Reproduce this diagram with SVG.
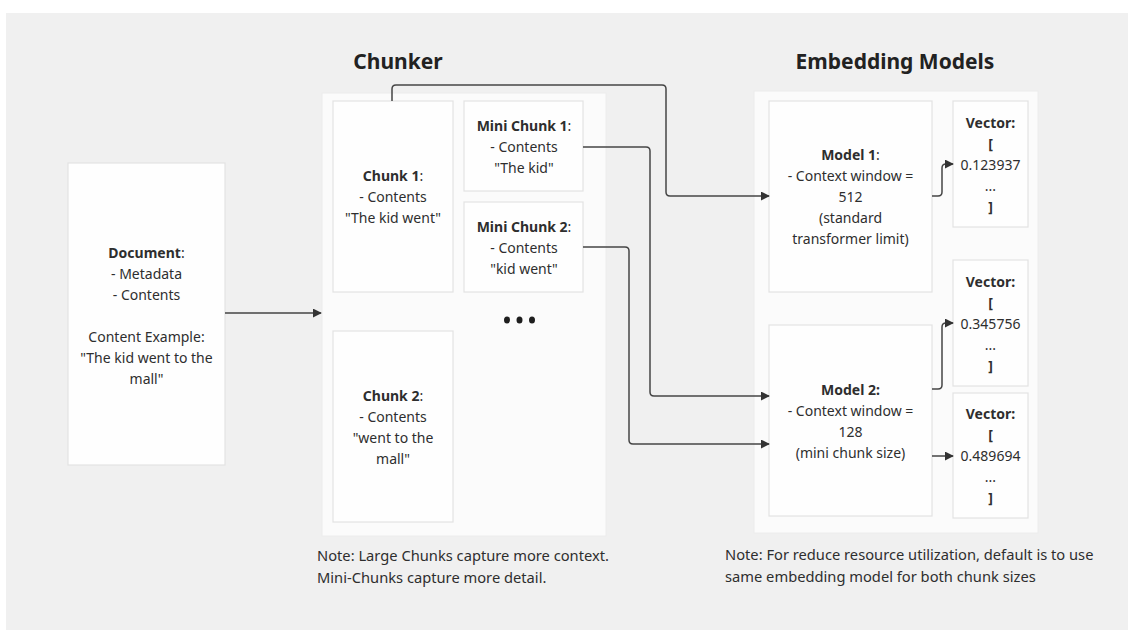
<svg xmlns="http://www.w3.org/2000/svg" width="1128" height="630" viewBox="0 0 1128 630">
<style>
text{font-family:"Noto Sans","Open Sans","DejaVu Sans",sans-serif;font-size:14px;fill:#2e2e2e;text-anchor:middle}
.b{font-weight:bold}
.title{font-size:21px;font-weight:bold;fill:#222}
.note{text-anchor:start;font-size:14.7px}
.box{fill:#fefefe;stroke:#e3e3e3;stroke-width:1.2}
.cont{fill:#fbfbfb;stroke:#ececec;stroke-width:1}
.conn{fill:none;stroke:#454545;stroke-width:1.5}
</style>
<defs>
<marker id="ah" viewBox="0 0 10 10" refX="9" refY="5" markerWidth="9" markerHeight="9" markerUnits="userSpaceOnUse" orient="auto">
<path d="M0,0 L10,5 L0,10 z" fill="#333"/>
</marker>
</defs>
<rect x="0" y="0" width="1128" height="630" fill="#ffffff"/>
<rect x="6" y="13" width="1122" height="617" fill="#f0f0f0"/>

<text class="title" x="398" y="69">Chunker</text>
<text class="title" x="895" y="69">Embedding Models</text>

<rect id="chunker-container" class="cont" x="322" y="93" width="284" height="443"/>
<rect id="embedding-container" class="cont" x="754" y="91" width="284" height="442"/>

<g id="document">
<rect class="box" x="68" y="163" width="157" height="302"/>
<text x="146.5" y="258"><tspan class="b">Document</tspan>:</text>
<text x="146.5" y="279">- Metadata</text>
<text x="146.5" y="300">- Contents</text>
<text x="146.5" y="342">Content Example:</text>
<text x="146.5" y="363">"The kid went to the</text>
<text x="146.5" y="384">mall"</text>
</g>

<g id="chunk1">
<rect class="box" x="333" y="101" width="120" height="191"/>
<text x="393" y="181"><tspan class="b">Chunk 1</tspan>:</text>
<text x="393" y="202">- Contents</text>
<text x="393" y="223">"The kid went"</text>
</g>

<g id="minichunk1">
<rect class="box" x="464" y="101" width="119" height="90"/>
<text x="524" y="131"><tspan class="b">Mini Chunk 1</tspan>:</text>
<text x="524" y="152">- Contents</text>
<text x="524" y="173">"The kid"</text>
</g>

<g id="minichunk2">
<rect class="box" x="464" y="202" width="119" height="90"/>
<text x="524" y="232"><tspan class="b">Mini Chunk 2</tspan>:</text>
<text x="524" y="253">- Contents</text>
<text x="524" y="274">"kid went"</text>
</g>

<g id="ellipsis">
<ellipse cx="507" cy="320" rx="3" ry="3.5" fill="#1e1e1e"/>
<ellipse cx="519.5" cy="320" rx="3" ry="3.5" fill="#1e1e1e"/>
<ellipse cx="532" cy="320" rx="3" ry="3.5" fill="#1e1e1e"/>
</g>

<g id="chunk2">
<rect class="box" x="333" y="331" width="120" height="191"/>
<text x="393" y="401"><tspan class="b">Chunk 2</tspan>:</text>
<text x="393" y="422">- Contents</text>
<text x="393" y="443">"went to the</text>
<text x="393" y="464">mall"</text>
</g>

<g id="model1">
<rect class="box" x="769" y="101" width="163" height="191"/>
<text x="850.5" y="160"><tspan class="b">Model 1</tspan>:</text>
<text x="850.5" y="181">- Context window =</text>
<text x="850.5" y="202">512</text>
<text x="850.5" y="223">(standard</text>
<text x="850.5" y="244">transformer limit)</text>
</g>

<g id="model2">
<rect class="box" x="769" y="325" width="163" height="191"/>
<text x="850.5" y="395" class="b">Model 2:</text>
<text x="850.5" y="416">- Context window =</text>
<text x="850.5" y="437">128</text>
<text x="850.5" y="458">(mini chunk size)</text>
</g>

<g id="vector1">
<rect class="box" x="953" y="101" width="75" height="126"/>
<text x="990.5" y="128" class="b">Vector:</text>
<text x="990.5" y="149" class="b">[</text>
<text x="990.5" y="170">0.123937</text>
<text x="990.5" y="191" font-size="10">...</text>
<text x="990.5" y="212" class="b">]</text>
</g>

<g id="vector2">
<rect class="box" x="953" y="260" width="75" height="126"/>
<text x="990.5" y="287" class="b">Vector:</text>
<text x="990.5" y="308" class="b">[</text>
<text x="990.5" y="329">0.345756</text>
<text x="990.5" y="350" font-size="10">...</text>
<text x="990.5" y="371" class="b">]</text>
</g>

<g id="vector3">
<rect class="box" x="953" y="393" width="75" height="125"/>
<text x="990.5" y="419" class="b">Vector:</text>
<text x="990.5" y="440" class="b">[</text>
<text x="990.5" y="461">0.489694</text>
<text x="990.5" y="482" font-size="10">...</text>
<text x="990.5" y="503" class="b">]</text>
</g>

<g id="connectors">
<path class="conn" marker-end="url(#ah)" d="M225,313 H321"/>
<path class="conn" marker-end="url(#ah)" d="M392,101 V89 Q392,85 396,85 H662 Q666,85 666,89 V192 Q666,196 670,196 H769"/>
<path class="conn" marker-end="url(#ah)" d="M583,147 H646 Q650,147 650,151 V392 Q650,396 654,396 H769"/>
<path class="conn" marker-end="url(#ah)" d="M583,247 H625 Q629,247 629,251 V440 Q629,444 633,444 H769"/>
<path class="conn" marker-end="url(#ah)" d="M932,196 H938 Q942,196 942,192 V168 Q942,164 946,164 H953"/>
<path class="conn" marker-end="url(#ah)" d="M932,389 H938 Q942,389 942,385 V327 Q942,323 946,323 H953"/>
<path class="conn" marker-end="url(#ah)" d="M932,456 H953"/>
</g>

<g id="notes">
<text class="note" x="317" y="561">Note: Large Chunks capture more context.</text>
<text class="note" x="317" y="583">Mini-Chunks capture more detail.</text>
<text class="note" x="725" y="560">Note: For reduce resource utilization, default is to use</text>
<text class="note" x="725" y="582">same embedding model for both chunk sizes</text>
</g>
</svg>
